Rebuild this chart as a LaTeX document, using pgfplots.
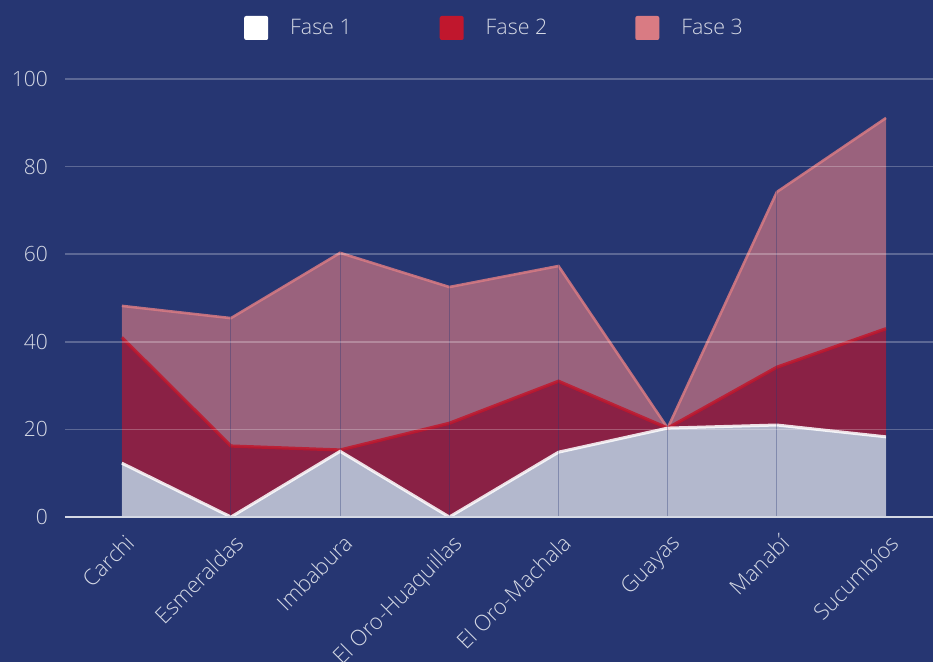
\documentclass[border=0pt]{standalone}
\usepackage{fontspec}
\IfFontExistsTF{Open Sans Light}{\setmainfont{Open Sans Light}}{\setmainfont{Open Sans}}
\usepackage{pgfplots}
\usepackage{pgfplotstable}
\pgfplotsset{compat=1.18}
\usepgfplotslibrary{fillbetween}
\definecolor{bg}{RGB}{38,54,114}
\definecolor{fA}{RGB}{255,255,255}
\definecolor{fB}{RGB}{192,23,45}
\definecolor{fC}{RGB}{217,123,131}
\definecolor{tickc}{RGB}{212,216,228}
\pagecolor{bg}

\pgfplotstableread{
i a b c
0 12.3 41.0 48.2
1 0.0 16.2 45.4
2 15.0 15.3 60.3
3 0.0 21.4 52.5
4 14.8 31.0 57.3
5 20.3 20.3 20.3
6 21.0 34.2 74.2
7 18.3 43.0 91.1
}\data

\pgfplotsset{sq/.style={legend image code/.code={\fill[##1, fill opacity=1, draw=none, rounded corners=1pt] (0pt,-6pt) rectangle (12pt,6pt);}}}

\begin{document}
\begin{tikzpicture}
\begin{axis}[
  at={(32.5pt,72.5pt)}, anchor=south west,
  scale only axis, width=434pt, height=219pt,
  xmin=-0.52, xmax=7.43, ymin=0, ymax=100,
  axis on top,
  axis x line*=bottom,
  axis y line*=left,
  y axis line style={draw=none},
  x axis line style={draw=tickc, line width=0.8pt, -},
  major tick length=0pt,
  ytick={0,20,40,60,80,100},
  xtick={0,...,7},
  xticklabels={Carchi,Esmeraldas,Imbabura,El Oro-Huaquillas,El Oro-Machala,Guayas,Manabí,Sucumbíos},
  /pgf/number format/assume math mode=true,
  ymajorgrids, xmajorgrids,
  y grid style={draw=white, opacity=0.25, line width=0.8pt},
  x grid style={draw=bg, opacity=0.35, line width=0.5pt},
  yticklabel style={text=tickc, font=\fontsize{10.5}{12}\selectfont, xshift=-5pt},
  xticklabel style={text=tickc, font=\fontsize{11}{13}\selectfont, xshift=1pt, yshift=-3pt, rotate=45, anchor=north east},
  legend columns=3,
  legend style={at={(0.496,1)}, anchor=center, yshift=25.5pt, draw=none, fill=none,
    text=tickc, font=\fontsize{10.7}{12}\selectfont,
    /tikz/every odd column/.append style={column sep=9pt},
    /tikz/every even column/.append style={column sep=42pt}},
]
\addplot[name path=z, draw=none, forget plot] coordinates {(0,0) (7,0)};
\addplot[name path=a, draw=none, forget plot] table[x=i, y=a] {\data};
\addplot[name path=b, draw=none, forget plot] table[x=i, y=b] {\data};
\addplot[name path=c, draw=none, forget plot] table[x=i, y=c] {\data};
\addplot[sq, fill=fA, fill opacity=0.65, draw=none] fill between[of=a and z];
\addlegendentry{Fase 1}
\addplot[sq, fill=fB, fill opacity=0.65, draw=none] fill between[of=b and a];
\addlegendentry{Fase 2}
\addplot[sq, fill=fC, fill opacity=0.65, draw=none] fill between[of=c and b];
\addlegendentry{Fase 3}
\addplot[forget plot, draw=fC, line width=1.3pt, opacity=0.85] table[x=i, y=c] {\data};
\addplot[forget plot, draw=fB, line width=1.6pt, opacity=0.85] table[x=i, y=b] {\data};
\addplot[forget plot, draw=white, line width=1.5pt, opacity=0.85] table[x=i, y=a] {\data};
\end{axis}
\pgfresetboundingbox
\useasboundingbox (0,0) rectangle (466.5pt,331pt);
\end{tikzpicture}
\end{document}
